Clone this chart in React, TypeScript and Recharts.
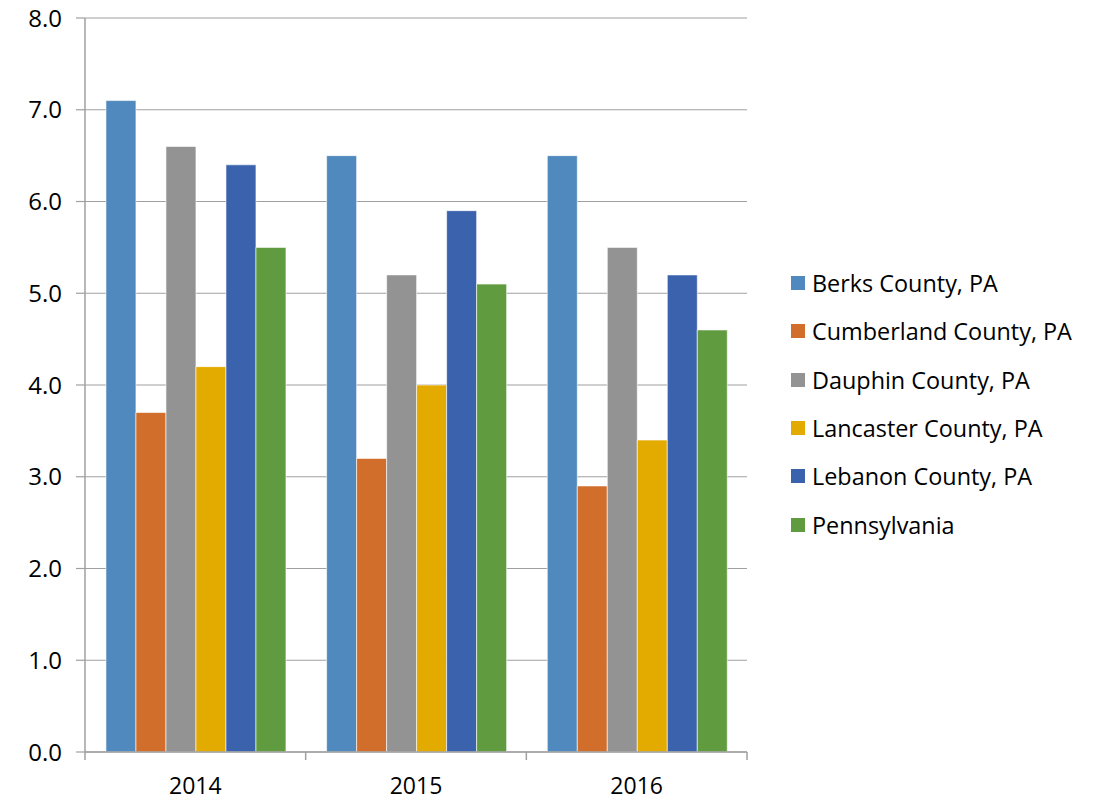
import React from 'react';
import { BarChart, Bar, XAxis, YAxis, CartesianGrid } from 'recharts';

const years = ['2014', '2015', '2016'];
const seriesNames = [
  'Berks County, PA',
  'Cumberland County, PA',
  'Dauphin County, PA',
  'Lancaster County, PA',
  'Lebanon County, PA',
  'Pennsylvania',
];
const berks = [7.1, 6.5, 6.5];
const cumberland = [3.7, 3.2, 2.9];
const dauphin = [6.6, 5.2, 5.5];
const lancaster = [4.2, 4.0, 3.4];
const lebanon = [6.4, 5.9, 5.2];
const pennsylvania = [5.5, 5.1, 4.6];
const yTicks = [0, 1, 2, 3, 4, 5, 6, 7, 8];

const seriesValues = [berks, cumberland, dauphin, lancaster, lebanon, pennsylvania];
const colors = ['#4f89bd', '#d26e2b', '#939393', '#e3aa00', '#3b62ad', '#619b3f'];

const data = years.map((year, i) => {
  const row: Record<string, string | number> = { year };
  seriesNames.forEach((name, s) => { row[name] = seriesValues[s][i]; });
  return row;
});

const FONT = '"Open Sans", "Liberation Sans", sans-serif';
const AXIS = '#a0a0a0';
const PLOT_LEFT = 85;
const PLOT_RIGHT = 747;
const PLOT_BOTTOM = 752;
const BAND = (PLOT_RIGHT - PLOT_LEFT) / years.length;

// category label plus tick marks on the category boundaries
const YearTick = (props: any) => {
  const { x, payload, index } = props;
  const half = BAND / 2;
  return (
    <g>
      <line x1={x - half} x2={x - half} y1={PLOT_BOTTOM} y2={PLOT_BOTTOM + 8} stroke={AXIS} strokeWidth={1.5} />
      {index === years.length - 1 && (
        <line x1={x + half} x2={x + half} y1={PLOT_BOTTOM} y2={PLOT_BOTTOM + 8} stroke={AXIS} strokeWidth={1.5} />
      )}
      <text x={x} y={PLOT_BOTTOM + 42} textAnchor="middle" fontSize={23} fontFamily={FONT} fill="#000">
        {payload.value}
      </text>
    </g>
  );
};

export default function App() {
  return (
    <div style={{ position: 'absolute', left: 0, top: 0, width: 1097, height: 800, background: '#fff' }}>
      <BarChart
        width={1097}
        height={800}
        data={data}
        margin={{ top: 18, right: 1097 - PLOT_RIGHT, bottom: 0, left: 0 }}
        barCategoryGap="9.5%"
        barGap={0}
      >
        <CartesianGrid horizontal vertical={false} stroke={AXIS} strokeWidth={1.2} />
        <XAxis
          dataKey="year"
          height={800 - PLOT_BOTTOM}
          tickLine={false}
          axisLine={{ stroke: AXIS, strokeWidth: 1.5 }}
          tick={<YearTick />}
          interval={0}
        />
        <YAxis
          width={PLOT_LEFT}
          domain={[0, 8]}
          ticks={yTicks}
          interval={0}
          tickFormatter={(v: number) => v.toFixed(1)}
          tickSize={9}
          tickMargin={14}
          tickLine={{ stroke: AXIS, strokeWidth: 1.2 }}
          axisLine={{ stroke: AXIS, strokeWidth: 1.5 }}
          tick={{ fontSize: 24, fontFamily: FONT, fill: '#000' }}
        />
        {seriesNames.map((name, s) => (
          <Bar
            key={name}
            dataKey={name}
            fill={colors[s]}
            stroke="rgba(255,255,255,0.6)"
            strokeWidth={1}
            isAnimationActive={false}
          />
        ))}
      </BarChart>
      <div style={{ position: 'absolute', left: 791, top: 259, fontFamily: FONT, fontSize: 23.4 }}>
        {seriesNames.map((name, s) => (
          <div key={name} style={{ display: 'flex', alignItems: 'center', height: 48.3 }}>
            <span style={{ width: 14, height: 14, background: colors[s], marginRight: 7 }} />
            <span style={{ color: '#000' }}>{name}</span>
          </div>
        ))}
      </div>
    </div>
  );
}
